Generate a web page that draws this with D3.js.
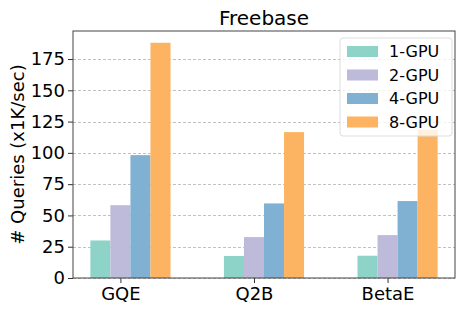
<!DOCTYPE html>
<html>
<head>
<meta charset="utf-8">
<script src="https://cdn.jsdelivr.net/npm/d3@7"></script>
<style>
  body { margin: 0; background: #fff; }
  text { font-family: "DejaVu Sans", sans-serif; fill: #000; }
</style>
</head>
<body>
<svg id="chart" width="463" height="312"></svg>
<script>
// data
var models = ["GQE", "Q2B", "BetaE"];
var series = ["1-GPU", "2-GPU", "4-GPU", "8-GPU"];
var gpu1 = [30, 17.6, 17.8];
var gpu2 = [58.2, 32.7, 34.3];
var gpu4 = [98.2, 59.6, 61.5];
var gpu8 = [188, 116.6, 118.5];
var yTicks = [0, 25, 50, 75, 100, 125, 150, 175];
var colors = ["#8dd3c7", "#bebada", "#80b1d3", "#fdb462"];

var values = [gpu1, gpu2, gpu4, gpu8];

var svg = d3.select("#chart");
var padding = {l: 73, r: 8, t: 31, b: 34};
var W = 463, H = 312;

// bar width 0.15 in data units, offsets -1..2 times the width
var barW = 0.15;
var x = d3.scaleLinear().domain([-0.355, 2.505]).range([padding.l, W - padding.r]);
var y = d3.scaleLinear().domain([0, 197.4]).range([H - padding.b, padding.t]);

// grid
svg.append("g")
  .selectAll("line")
  .data(yTicks)
  .enter()
  .append("line")
  .attr("x1", padding.l)
  .attr("x2", W - padding.r)
  .attr("y1", function(d) { return Math.round(y(d)) + 0.5; })
  .attr("y2", function(d) { return Math.round(y(d)) + 0.5; })
  .attr("stroke", "#b0b0b0")
  .attr("stroke-width", 0.8)
  .attr("stroke-dasharray", "3,2");

// bars
series.forEach(function(s, i) {
  svg.append("g")
    .selectAll("rect")
    .data(values[i])
    .enter()
    .append("rect")
    .attr("x", function(d, j) { return x(j + (i - 1) * barW - barW / 2); })
    .attr("width", x(barW) - x(0))
    .attr("y", function(d) { return y(d); })
    .attr("height", function(d) { return y(0) - y(d); })
    .attr("fill", colors[i]);
});

// axes
var yAxis = svg.append("g")
  .attr("transform", "translate(" + padding.l + ",0)")
  .call(d3.axisLeft(y).tickValues(yTicks).tickSize(5).tickPadding(3));
var xAxis = svg.append("g")
  .attr("transform", "translate(0," + (H - padding.b) + ")")
  .call(d3.axisBottom(x).tickValues([0, 1, 2]).tickFormat(function(d) { return models[d]; })
    .tickSize(5).tickPadding(4));
[yAxis, xAxis].forEach(function(a) {
  a.select(".domain").remove();
  a.selectAll("line").attr("stroke", "#333");
  a.selectAll("text").style("font-size", "18px").attr("fill", "#000");
});

// frame
svg.append("rect")
  .attr("x", padding.l)
  .attr("y", padding.t)
  .attr("width", W - padding.r - padding.l)
  .attr("height", H - padding.b - padding.t)
  .attr("fill", "none")
  .attr("stroke", "#444")
  .attr("stroke-width", 1);

// title and label
svg.append("text")
  .attr("x", (padding.l + W - padding.r) / 2)
  .attr("y", 25)
  .attr("text-anchor", "middle")
  .style("font-size", "20px")
  .text("Freebase");

svg.append("text")
  .attr("text-anchor", "middle")
  .attr("dominant-baseline", "central")
  .style("font-size", "18px")
  .attr("transform", "translate(17," + ((padding.t + H - padding.b) / 2) + ")rotate(-90)")
  .text("# Queries (x1K/sec)");

// legend
var lg = svg.append("g").attr("transform", "translate(340,38)");
lg.append("rect")
  .attr("width", 112)
  .attr("height", 98)
  .attr("rx", 3)
  .attr("fill", "#fff")
  .attr("fill-opacity", 0.8)
  .attr("stroke", "#ddd");
series.forEach(function(s, i) {
  lg.append("rect")
    .attr("x", 7)
    .attr("y", 8 + i * 23.5)
    .attr("width", 31)
    .attr("height", 11)
    .attr("fill", colors[i]);
  lg.append("text")
    .attr("x", 49)
    .attr("y", 13.5 + i * 23.5)
    .attr("dominant-baseline", "central")
    .style("font-size", "16px")
    .text(s);
});
</script>
</body>
</html>
